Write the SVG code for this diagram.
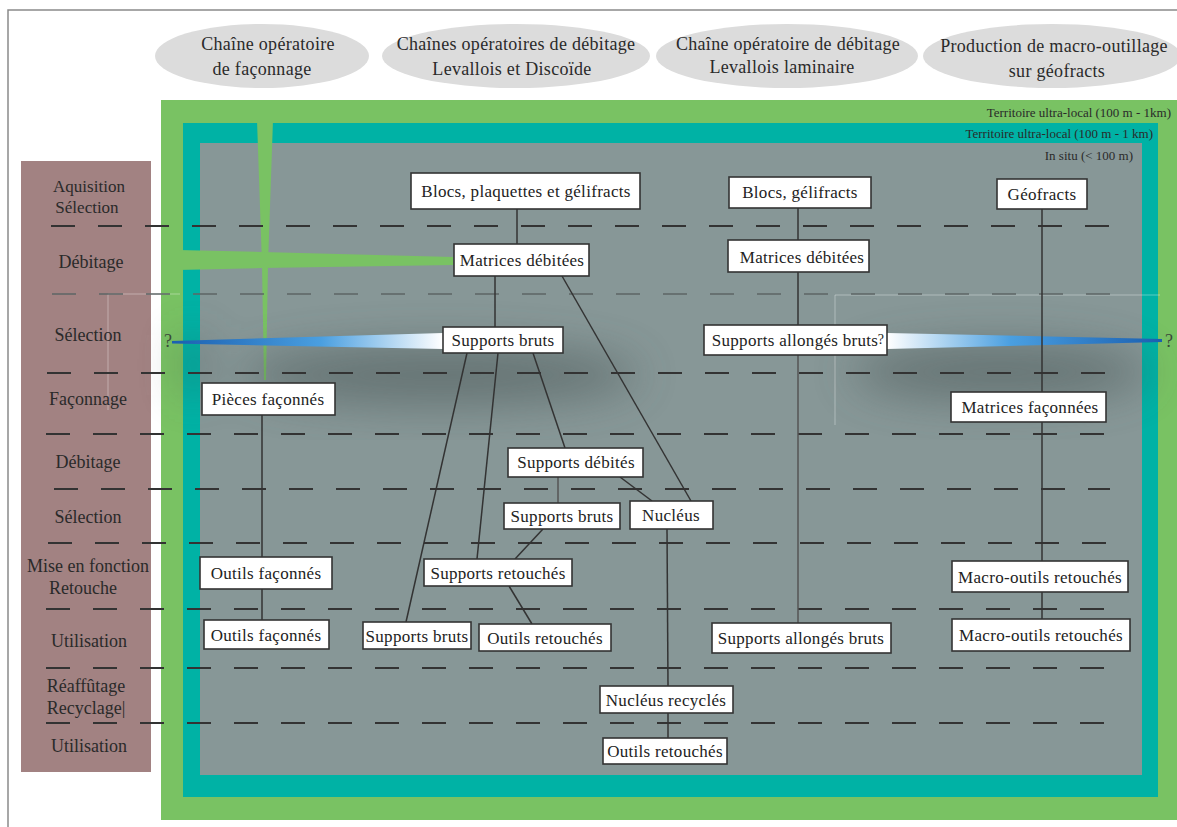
<svg xmlns="http://www.w3.org/2000/svg" width="1177" height="827" viewBox="0 0 1177 827">
<style>
.ser{font-family:"Liberation Serif","DejaVu Serif","Times New Roman",serif;fill:#2a2a2a}
.lbl{font-size:18px;text-anchor:middle}
.ell{fill:#dcdcdc}
.et{font-size:18px;text-anchor:middle;letter-spacing:0.3px}
.terr{font-size:13px;text-anchor:end}
.box rect{fill:#ffffff;stroke:#333333;stroke-width:1.6}
.box text{font-family:"Liberation Serif","DejaVu Serif","Times New Roman",serif;font-size:17px;letter-spacing:0.3px;fill:#222;text-anchor:middle}
.dash{stroke:#333333;stroke-width:1.8;stroke-dasharray:24 23;fill:none}
.conn line{stroke:#333333;stroke-width:1.5}
.conn line.lt{stroke:#555555}
.q{font-family:"Liberation Serif","DejaVu Serif","Times New Roman",serif;font-size:18px;fill:#3a4a3a;text-anchor:middle}
</style>
<defs>
<linearGradient id="gl" x1="0" y1="0" x2="1" y2="0">
<stop offset="0" stop-color="#1a5fb0"/>
<stop offset="0.55" stop-color="#4a9fe0"/>
<stop offset="1" stop-color="#ffffff"/>
</linearGradient>
<linearGradient id="gr" x1="0" y1="0" x2="1" y2="0">
<stop offset="0" stop-color="#ffffff"/>
<stop offset="0.45" stop-color="#4a9fe0"/>
<stop offset="1" stop-color="#1a5fb0"/>
</linearGradient>
<filter id="blur" x="-50%" y="-50%" width="200%" height="200%"><feGaussianBlur stdDeviation="22"/></filter>
</defs>

<rect x="0" y="0" width="1177" height="827" fill="#ffffff"/>
<polyline points="8,827 8,10 1177,10" fill="none" stroke="#8a8a8a" stroke-width="1.5"/>

<g id="headers">
<g id="h1"><ellipse class="ell" cx="262" cy="56" rx="107" ry="32"/>
<text class="ser et" x="268" y="50">Chaîne opératoire</text><text class="ser et" x="262" y="75">de façonnage</text></g>
<g id="h2"><ellipse class="ell" cx="516" cy="56" rx="134" ry="32"/>
<text class="ser et" x="516" y="50">Chaînes opératoires de débitage</text><text class="ser et" x="512" y="75">Levallois et Discoïde</text></g>
<g id="h3"><ellipse class="ell" cx="787" cy="56" rx="131" ry="32"/>
<text class="ser et" x="788" y="50">Chaîne opératoire de débitage</text><text class="ser et" x="782" y="73">Levallois laminaire</text></g>
<g id="h4"><ellipse class="ell" cx="1052" cy="56" rx="129" ry="32"/>
<text class="ser et" x="1054" y="52">Production de macro-outillage</text><text class="ser et" x="1057" y="77">sur géofracts</text></g>
</g>

<g id="zones">
<rect x="161" y="100" width="1016" height="720" fill="#79c263"/>
<rect x="183" y="123" width="975" height="674" fill="#00b2a5"/>
<rect x="200" y="143" width="942" height="632" fill="#879797"/>
<text class="ser terr" x="1171" y="117">Territoire ultra-local (100 m - 1km)</text>
<text class="ser terr" x="1153" y="138">Territoire ultra-local (100 m - 1 km)</text>
<text class="ser terr" x="1133" y="160">In situ (&lt; 100 m)</text>
</g>

<rect id="stages-bg" x="21" y="161" width="130" height="611" fill="#a28282"/>

<g id="green-bands" fill="#79c263">
<polygon points="257,120 273,120 268,265 266,380 264,380 262,265"/>
<polygon points="178,250 262,252 453,257 453,265 262,268 178,270"/>
</g>

<g id="shadows" filter="url(#blur)" fill="#3c4a4a" opacity="0.45">
<ellipse cx="440" cy="375" rx="200" ry="30"/>
<ellipse cx="1000" cy="372" rx="150" ry="28"/>
<rect x="183" y="335" width="20" height="60"/>
</g>
<g id="faint" stroke="#ffffff" stroke-opacity="0.35" stroke-width="1" fill="none">
<polyline points="108,410 108,294 180,294"/>
<polyline points="835,425 835,295 1160,295"/>
</g>

<g id="dashes">
<line class="dash" x1="51" y1="226" x2="1110" y2="226"/>
<line class="dash" x1="52" y1="294" x2="1110" y2="294" style="stroke:#5e6666;stroke-width:1.5"/>
<line class="dash" x1="47" y1="373" x2="1110" y2="373"/>
<line class="dash" x1="46" y1="434" x2="1110" y2="434"/>
<line class="dash" x1="54" y1="489" x2="1110" y2="489"/>
<line class="dash" x1="48" y1="543" x2="1110" y2="543"/>
<line class="dash" x1="46" y1="609" x2="1110" y2="609"/>
<line class="dash" x1="46" y1="668" x2="1110" y2="668"/>
<line class="dash" x1="46" y1="723" x2="1110" y2="723"/>
</g>

<g id="stages" class="ser">
<text class="ser lbl" x="89" y="192" style="font-size:17px">Aquisition</text>
<text class="ser lbl" x="87" y="213" style="font-size:17px">Sélection</text>
<text class="ser lbl" x="91" y="268">Débitage</text>
<text class="ser lbl" x="88" y="341">Sélection</text>
<text class="ser lbl" x="88" y="405">Façonnage</text>
<text class="ser lbl" x="88" y="468">Débitage</text>
<text class="ser lbl" x="88" y="523">Sélection</text>
<text class="ser lbl" x="88" y="572">Mise en fonction</text>
<text class="ser lbl" x="83" y="594">Retouche</text>
<text class="ser lbl" x="89" y="647">Utilisation</text>
<text class="ser lbl" x="86" y="692">Réaffûtage</text>
<text class="ser lbl" x="86" y="714">Recyclage|</text>
<text class="ser lbl" x="89" y="752">Utilisation</text>
</g>

<g id="unknown-links">
<polygon points="172,341 172,343.5 443,349 443,333" fill="url(#gl)"/>
<polygon points="887,333 887,349 1162,342 1162,339" fill="url(#gr)"/>
<text class="q" x="168" y="347">?</text>
<text class="q" x="1169" y="347">?</text>
</g>

<g id="connectors" class="conn">
<line x1="517" y1="209" x2="517" y2="244"/>
<line x1="495" y1="276" x2="495" y2="327"/>
<line x1="562" y1="276" x2="691" y2="501"/>
<line x1="467" y1="353" x2="406" y2="622"/>
<line x1="498" y1="353" x2="477" y2="559"/>
<line x1="533" y1="353" x2="565" y2="448"/>
<line class="lt" x1="558" y1="477" x2="558" y2="503"/>
<line x1="620" y1="477" x2="652" y2="501"/>
<line x1="543" y1="529" x2="515" y2="559"/>
<line x1="509" y1="586" x2="532" y2="624"/>
<line x1="667" y1="529" x2="668" y2="686"/>
<line x1="668" y1="713" x2="668" y2="738"/>
<line x1="262" y1="415" x2="262" y2="557"/>
<line x1="262" y1="589" x2="262" y2="620"/>
<line x1="798" y1="208" x2="798" y2="240"/>
<line x1="798" y1="272" x2="798" y2="325"/>
<line class="lt" x1="798" y1="355" x2="798" y2="623"/>
<line x1="1042" y1="209" x2="1042" y2="619"/>
</g>

<g id="n-blocs" class="box"><rect x="411" y="173" width="229" height="36"/><text x="526" y="197">Blocs, plaquettes et gélifracts</text></g>
<g id="n-matrices-deb-1" class="box"><rect x="454" y="244" width="135" height="32"/><text x="522" y="266">Matrices débitées</text></g>
<g id="n-blocs-gel" class="box"><rect x="729" y="177" width="142" height="31"/><text x="800" y="198">Blocs, gélifracts</text></g>
<g id="n-matrices-deb-2" class="box"><rect x="728" y="240" width="141" height="32"/><text x="802" y="263">Matrices débitées</text></g>
<g id="n-geofracts" class="box"><rect x="997" y="179" width="90" height="30"/><text x="1042" y="200">Géofracts</text></g>
<g id="n-supports-bruts-1" class="box"><rect x="443" y="327" width="120" height="26"/><text x="503" y="346">Supports bruts</text></g>
<g id="n-supports-allonges-1" class="box"><rect x="704" y="325" width="183" height="30"/><text x="795" y="346">Supports allongés bruts</text><text x="881" y="344" style="font-size:14px">?</text></g>
<g id="n-pieces" class="box"><rect x="202" y="383" width="133" height="32"/><text x="268" y="405">Pièces façonnés</text></g>
<g id="n-matrices-fac" class="box"><rect x="951" y="392" width="155" height="30"/><text x="1030" y="413">Matrices façonnées</text></g>
<g id="n-supports-debites" class="box"><rect x="508" y="448" width="135" height="29"/><text x="576" y="468">Supports débités</text></g>
<g id="n-supports-bruts-2" class="box"><rect x="504" y="503" width="116" height="26"/><text x="562" y="522">Supports bruts</text></g>
<g id="n-nucleus" class="box"><rect x="630" y="501" width="83" height="28"/><text x="671" y="521">Nucléus</text></g>
<g id="n-supports-retouches" class="box"><rect x="424" y="559" width="148" height="27"/><text x="498" y="579">Supports retouchés</text></g>
<g id="n-supports-bruts-3" class="box"><rect x="363" y="622" width="108" height="27"/><text x="417" y="642">Supports bruts</text></g>
<g id="n-outils-retouches-1" class="box"><rect x="479" y="624" width="132" height="27"/><text x="545" y="644">Outils retouchés</text></g>
<g id="n-nucleus-recycles" class="box"><rect x="600" y="686" width="133" height="27"/><text x="666" y="706">Nucléus recyclés</text></g>
<g id="n-outils-retouches-2" class="box"><rect x="603" y="738" width="124" height="26"/><text x="665" y="757">Outils retouchés</text></g>
<g id="n-outils-fac-1" class="box"><rect x="200" y="557" width="132" height="32"/><text x="266" y="579">Outils façonnés</text></g>
<g id="n-outils-fac-2" class="box"><rect x="204" y="620" width="125" height="29"/><text x="266" y="641">Outils façonnés</text></g>
<g id="n-supports-allonges-2" class="box"><rect x="712" y="623" width="179" height="30"/><text x="801" y="644">Supports allongés bruts</text></g>
<g id="n-macro-1" class="box"><rect x="952" y="561" width="176" height="31"/><text x="1040" y="583">Macro-outils retouchés</text></g>
<g id="n-macro-2" class="box"><rect x="952" y="619" width="178" height="32"/><text x="1041" y="641">Macro-outils retouchés</text></g>
</svg>
